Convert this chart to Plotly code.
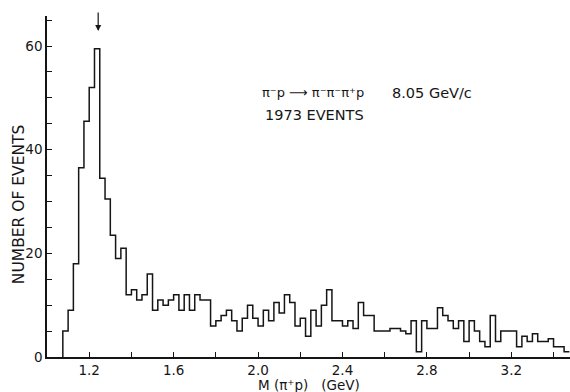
import numpy as np
import plotly.graph_objects as go

# pi+ p invariant-mass histogram, 25 MeV bins starting at threshold
bin_start = 1.075   # GeV
bin_width = 0.025   # GeV
counts = [
    5, 9, 18, 36.5, 45.5, 52, 59.5, 34.5, 30.5, 23.5,
    19, 21, 12, 13, 11, 12, 16, 9, 11, 10,
    11, 12, 9, 12, 9, 12, 11, 11, 6, 7,
    8, 9, 7, 5, 7.5, 10, 7.5, 6, 9, 7,
    10.5, 8.5, 12, 10.5, 6, 7.5, 4, 9, 6, 10,
    13, 7, 7, 6, 7, 5.5, 10.5, 8, 8, 5,
    5, 5, 5.5, 5.5, 5, 4.5, 7, 1, 7, 5.5,
    5.5, 9.5, 8, 7, 5.5, 7, 3, 7, 5, 3,
    2, 8, 3, 5, 5, 5, 2, 4, 3, 4.5,
    3, 3, 3.5, 2, 2, 1,
]

# Delta(1232) marker position
delta_mass = 1.2425

x_tick_vals = [1.2, 1.4, 1.6, 1.8, 2.0, 2.2, 2.4, 2.6, 2.8, 3.0, 3.2, 3.4]
x_tick_text = ["1.2", "", "1.6", "", "2.0", "", "2.4", "", "2.8", "", "3.2", ""]
y_tick_vals = list(range(0, 66, 5))
y_tick_text = ["0", "", "", "", "20", "", "", "", "40", "", "", "", "60", ""]

edges = bin_start + bin_width * np.arange(len(counts) + 1)
# step outline: rise from zero at the first edge, flat top across every bin
xs = np.concatenate([[edges[0]], edges])
ys = np.concatenate([[0], counts, [counts[-1]]])

ink = "#151515"
font_family = "DejaVu Sans, Liberation Sans, sans-serif"

fig = go.Figure()
fig.add_trace(go.Scatter(
    x=xs, y=ys, mode="lines",
    line=dict(shape="hv", color=ink, width=1.5),
    hoverinfo="skip", showlegend=False,
))

axis_common = dict(
    showgrid=False, zeroline=False, showline=True, linecolor=ink, linewidth=1.5,
    ticks="inside", ticklen=5, tickwidth=1.1, tickcolor=ink,
    tickfont=dict(family=font_family, size=13.5, color=ink),
)

fig.update_layout(
    width=570, height=392, autosize=False,
    margin=dict(l=47, r=0, t=16, b=35),
    paper_bgcolor="white", plot_bgcolor="white",
    xaxis=dict(range=[1.0, 3.478], tickmode="array", tickvals=x_tick_vals,
               ticktext=x_tick_text, **axis_common),
    yaxis=dict(range=[0, 65.8], tickmode="array", tickvals=y_tick_vals,
               ticktext=y_tick_text, **axis_common),
    font=dict(family=font_family, color=ink),
    annotations=[
        dict(text="NUMBER OF EVENTS", xref="paper", yref="paper",
             x=-0.053, y=0.449, textangle=-90, showarrow=False,
             xanchor="center", yanchor="middle", font=dict(size=15.5)),
        dict(text="M\u00a0(\u03c0\u207ap)\u00a0\u00a0\u00a0(GeV)", xref="paper", yref="paper",
             x=0.501, y=-0.081, showarrow=False,
             xanchor="center", yanchor="middle", font=dict(size=13.5)),
        dict(text="\u03c0\u207bp \u27f6 \u03c0\u207b\u03c0\u207b\u03c0\u207ap",
             xref="paper", yref="paper", x=0.4076, y=0.7744, showarrow=False,
             xanchor="left", yanchor="middle", font=dict(size=13)),
        dict(text="8.05 GeV/c",
             xref="paper", yref="paper", x=0.6560, y=0.7744, showarrow=False,
             xanchor="left", yanchor="middle", font=dict(size=14.5)),
        dict(text="1973 EVENTS", xref="paper", yref="paper", x=0.4134, y=0.710,
             showarrow=False, xanchor="left", yanchor="middle", font=dict(size=14.5)),
        dict(x=delta_mass, y=62.9, xref="x", yref="y", text="", showarrow=True,
             ax=0, ay=-20, arrowhead=2, arrowsize=1, arrowwidth=1.2, arrowcolor=ink),
    ],
)

fig.write_html("out.html")
